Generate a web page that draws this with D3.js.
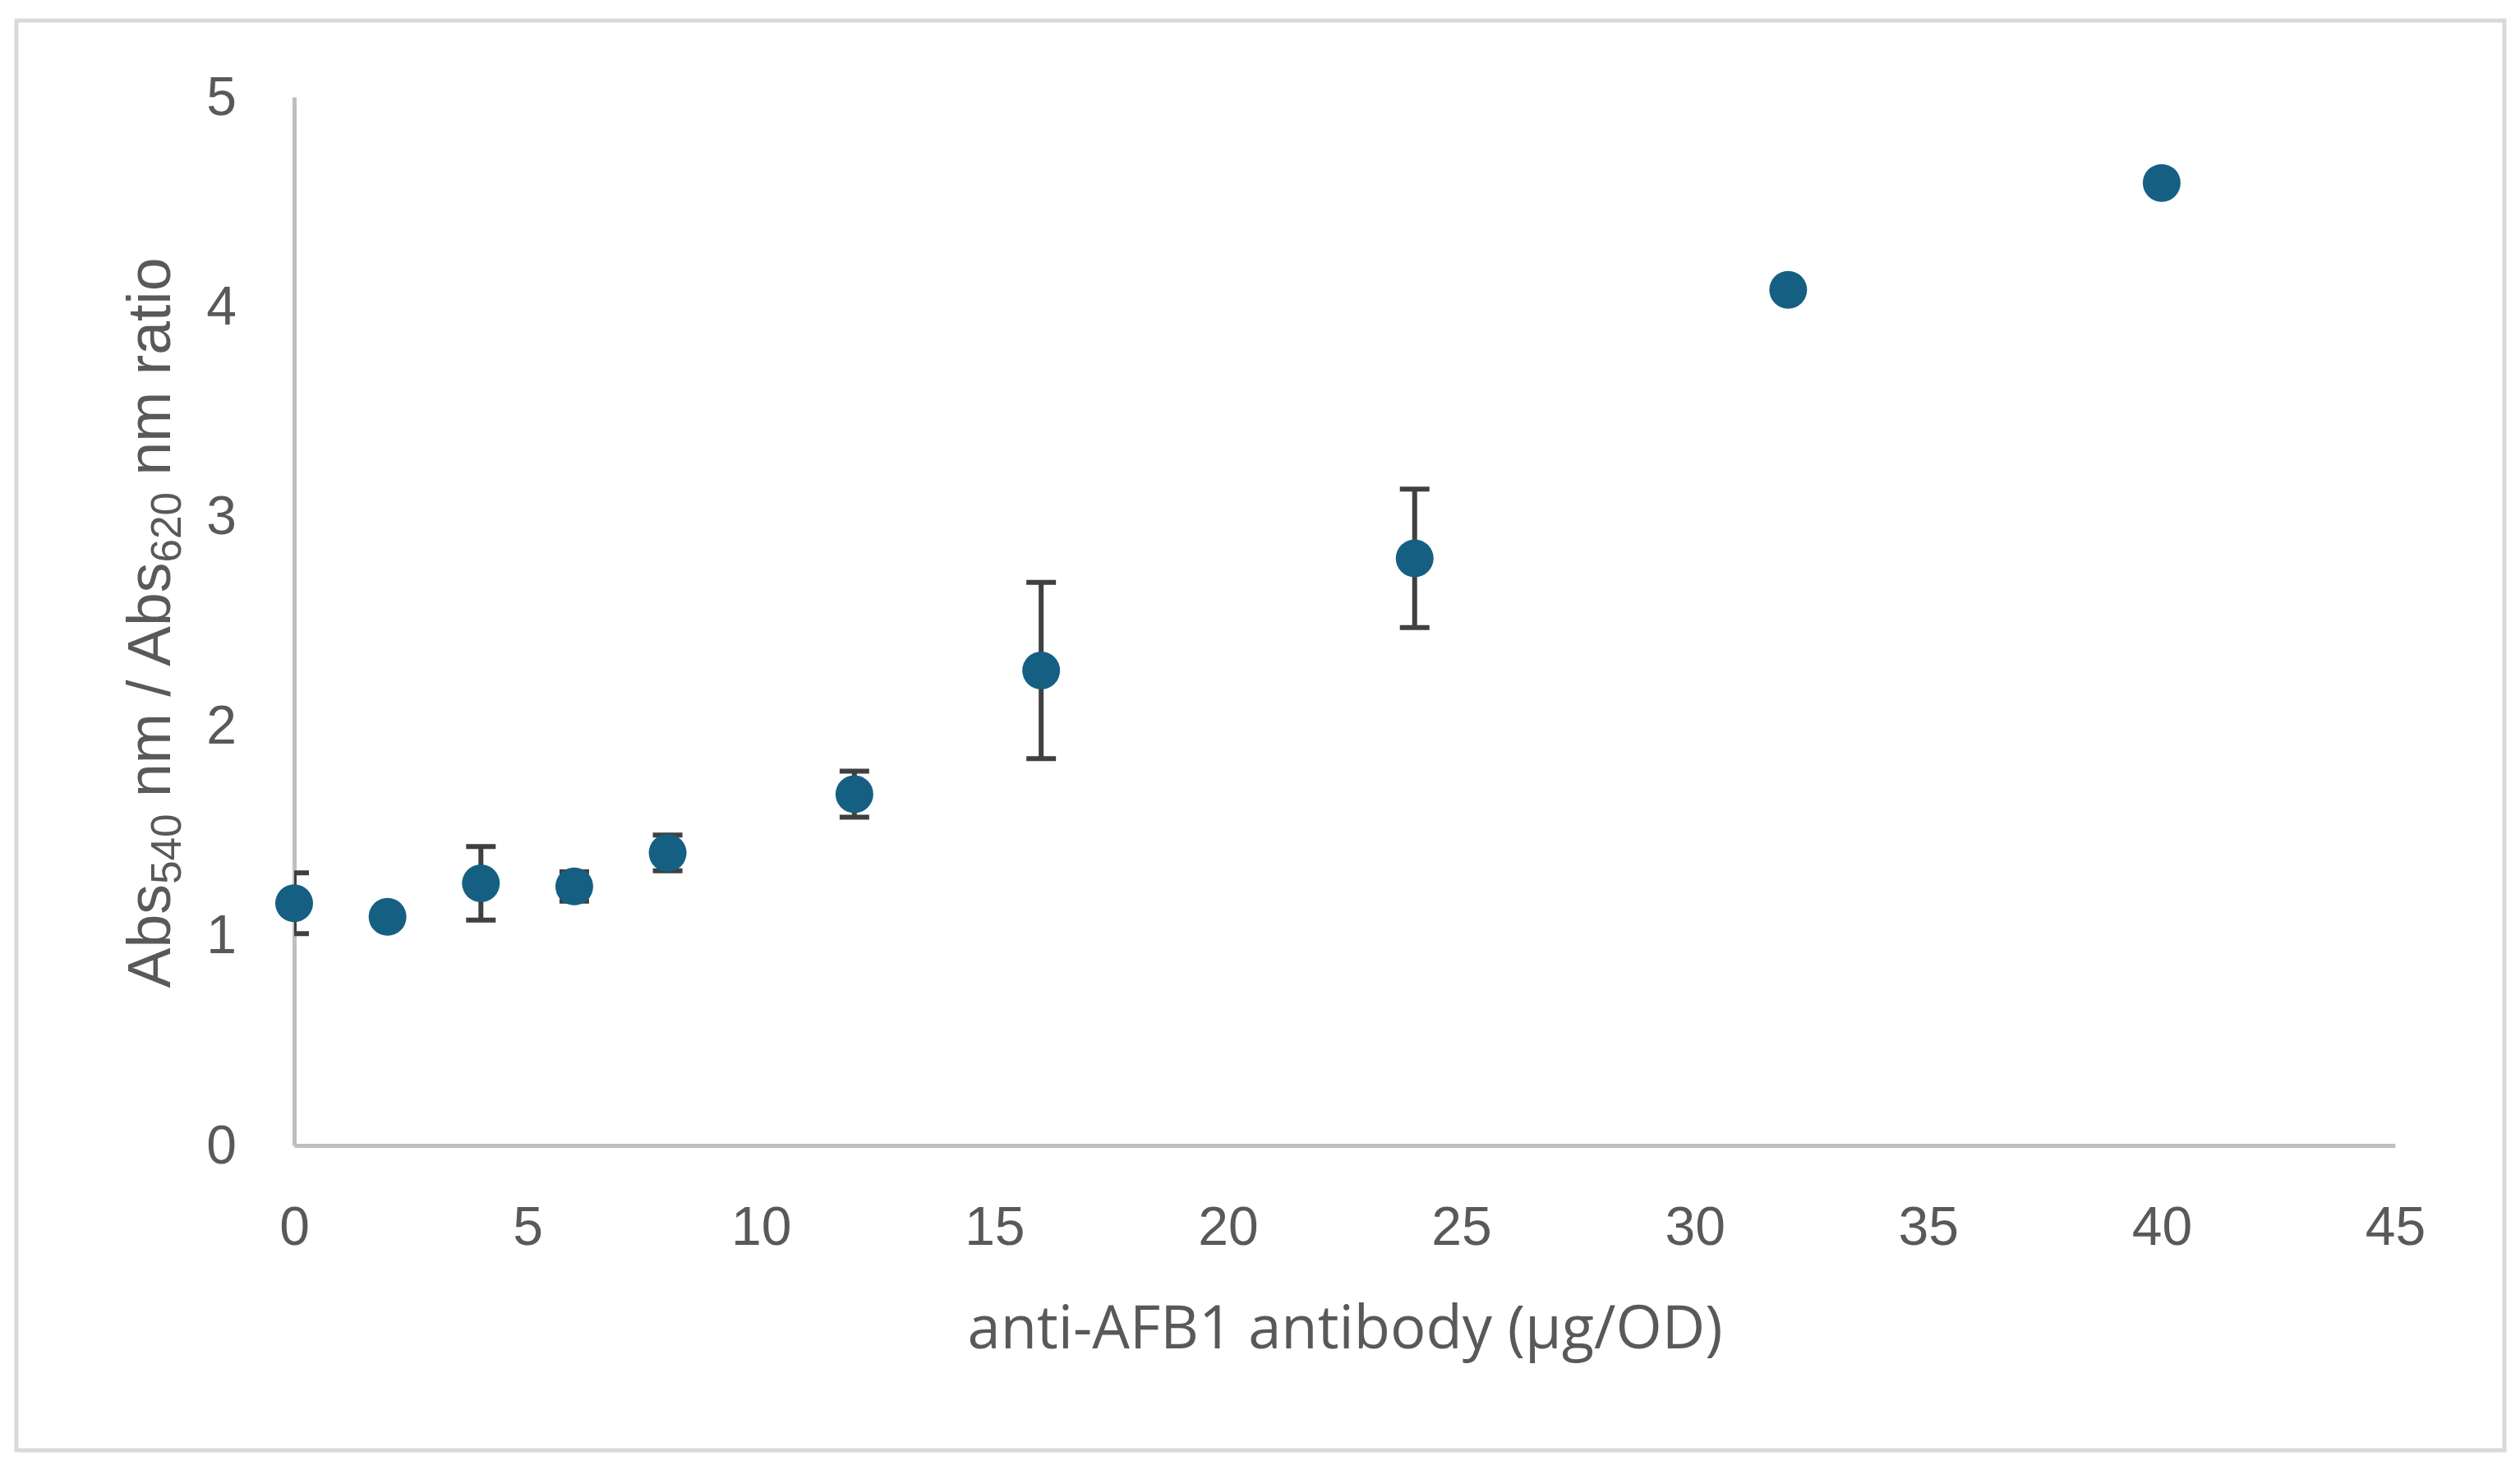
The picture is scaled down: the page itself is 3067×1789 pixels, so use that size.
<!DOCTYPE html>
<meta charset="utf-8">
<script src="https://cdn.jsdelivr.net/npm/d3@7"></script>
<style>
    body { margin: 0; background: #fff; }
    .tick text { font-family: "Liberation Sans", Arial, sans-serif; fill: #595959; }
    .axis .domain { stroke: #bfbfbf; stroke-width: 5px; }
</style>
<svg width="3067" height="1789"></svg>
<script>
    // antibody amount (µg/OD) and mean ratio with error (SD)
    var antibody = [0, 2, 4, 6, 8, 12, 16, 24, 32, 40];
    var ratio    = [1.155, 1.09, 1.25, 1.235, 1.395, 1.675, 2.265, 2.80, 4.08, 4.59];
    var ratioErr = [0.145, 0.04, 0.175, 0.07, 0.085, 0.11, 0.42, 0.33, 0, 0];
    var xTicks = [0, 5, 10, 15, 20, 25, 30, 35, 40, 45];
    var yTicks = [0, 1, 2, 3, 4, 5];

    var svg = d3.select("svg"),
        margin = {top: 118, right: 152, bottom: 395, left: 358},
        width = +svg.attr("width") - margin.left - margin.right,
        height = +svg.attr("height") - margin.top - margin.bottom;

    // outer chart frame
    svg.append("rect")
        .attr("x", 20).attr("y", 25)
        .attr("width", 3028).attr("height", 1740)
        .attr("fill", "#fff")
        .attr("stroke", "#d9d9d9")
        .attr("stroke-width", 5);

    var g = svg.append("g").attr("transform", "translate(" + margin.left + "," + margin.top + ")");

    var x = d3.scaleLinear().domain([0, 45]).range([0, width]);
    var y = d3.scaleLinear().domain([0, 5]).range([height, 0]);

    g.append("clipPath").attr("id", "plotclip")
        .append("rect").attr("x", 0).attr("y", -5).attr("width", width).attr("height", height + 5);

    var yAxis = g.append("g").attr("class", "axis")
        .call(d3.axisLeft(y).tickValues(yTicks).tickFormat(d3.format("d"))
            .tickSize(0).tickPadding(70).tickSizeOuter(0));
    yAxis.selectAll("text").attr("font-size", 66);

    var xAxis = g.append("g").attr("class", "axis")
        .attr("transform", "translate(0," + height + ")")
        .call(d3.axisBottom(x).tickValues(xTicks).tickFormat(d3.format("d"))
            .tickSize(0).tickPadding(74).tickSizeOuter(0));
    xAxis.selectAll("text").attr("font-size", 66);

    // error bars, clipped to plot area like Excel
    var pts = antibody.map(function (d, i) { return {x: d, y: ratio[i], e: ratioErr[i]}; });
    var eb = g.append("g").attr("clip-path", "url(#plotclip)")
        .selectAll(".eb").data(pts.filter(function (d) { return d.e > 0; }))
        .enter().append("g").attr("class", "eb")
        .attr("stroke", "#404040").attr("stroke-width", 6);
    eb.append("line")
        .attr("x1", function (d) { return x(d.x); }).attr("x2", function (d) { return x(d.x); })
        .attr("y1", function (d) { return y(d.y + d.e); }).attr("y2", function (d) { return y(d.y - d.e); });
    eb.append("line")
        .attr("x1", function (d) { return x(d.x) - 18; }).attr("x2", function (d) { return x(d.x) + 18; })
        .attr("y1", function (d) { return y(d.y + d.e); }).attr("y2", function (d) { return y(d.y + d.e); });
    eb.append("line")
        .attr("x1", function (d) { return x(d.x) - 18; }).attr("x2", function (d) { return x(d.x) + 18; })
        .attr("y1", function (d) { return y(d.y - d.e); }).attr("y2", function (d) { return y(d.y - d.e); });

    g.selectAll(".dot").data(pts).enter().append("circle")
        .attr("class", "dot")
        .attr("cx", function (d) { return x(d.x); })
        .attr("cy", function (d) { return y(d.y); })
        .attr("r", 23)
        .attr("fill", "#156082");

    // fit a text element to a target width
    function fitWidth(t, target) {
        var fs = +t.attr("font-size");
        var w = t.node().getComputedTextLength();
        t.attr("font-size", fs * target / w);
    }

    var xt = svg.append("text")
        .attr("x", 1637).attr("y", 1641)
        .attr("text-anchor", "middle")
        .attr("font-family", "'Open Sans', sans-serif")
        .attr("font-size", 68)
        .attr("fill", "#595959")
        .text("anti-AFB1 antibody (µg/OD)");
    fitWidth(xt, 919);

    var yt = svg.append("text")
        .attr("transform", "translate(207,758) rotate(-90)")
        .attr("text-anchor", "middle")
        .attr("font-family", "'Liberation Sans', Arial, sans-serif")
        .attr("font-size", 74)
        .attr("fill", "#595959");
    yt.append("tspan").text("Abs");
    yt.append("tspan").attr("font-size", "0.7em").attr("dy", "0.25em").text("540");
    yt.append("tspan").attr("dy", "-0.175em").text(" nm / Abs");
    yt.append("tspan").attr("font-size", "0.7em").attr("dy", "0.25em").text("620");
    yt.append("tspan").attr("dy", "-0.175em").text(" nm ratio");
    var bw = yt.node().getBBox().width;
    yt.attr("font-size", 74 * 889 / bw);
</script>
